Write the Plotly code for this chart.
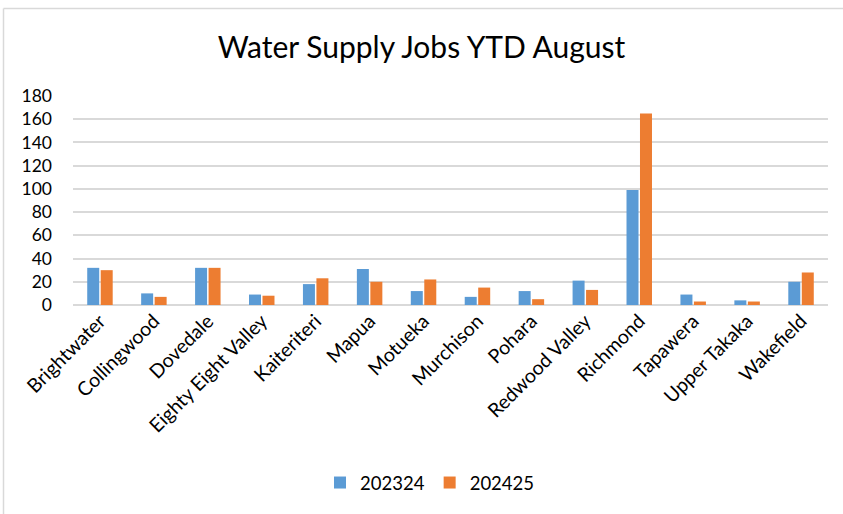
import plotly.graph_objects as go

categories = ["Brightwater", "Collingwood", "Dovedale", "Eighty Eight Valley", "Kaiteriteri",
              "Mapua", "Motueka", "Murchison", "Pohara", "Redwood Valley", "Richmond",
              "Tapawera", "Upper Takaka", "Wakefield"]
jobs_202324 = [32, 10, 32, 9, 18, 31, 12, 7, 12, 21, 99, 9, 4, 20]
jobs_202425 = [30, 7, 32, 8, 23, 20, 22, 15, 5, 13, 165, 3, 3, 28]
y_ticks = [0, 20, 40, 60, 80, 100, 120, 140, 160, 180]

FONT = "Lato"
W, H = 843, 514
L, R, T, B = 73, 15, 96, 209
pw, ph = W - L - R, H - T - B

def px(x):
    return (x - L) / pw

def py(y):
    return (H - B - y) / ph

fig = go.Figure()
fig.add_trace(go.Bar(name="202324", x=categories, y=jobs_202324,
                     marker=dict(color="#5B9BD5", line=dict(width=0))))
fig.add_trace(go.Bar(name="202425", x=categories, y=jobs_202425,
                     marker=dict(color="#ED7D31", line=dict(width=0))))

fig.update_layout(
    width=W, height=H,
    margin=dict(l=L, r=R, t=T, b=B),
    paper_bgcolor="white", plot_bgcolor="white",
    barmode="group", bargap=0.5, bargroupgap=0.11,
    font=dict(family=FONT, color="#000000", size=18),
    title=dict(text="Water Supply Jobs YTD August", x=0.5, xanchor="center",
               y=1 - 47 / H, yanchor="middle",
               font=dict(family=FONT, size=30, color="#000000")),
    xaxis=dict(tickangle=-45, showgrid=False, showline=False, ticks="",
               tickfont=dict(size=19.5)),
    yaxis=dict(range=[0, 180], tickvals=y_ticks, showgrid=True, gridcolor="#D9D9D9",
               gridwidth=1.5, zeroline=True, zerolinecolor="#D9D9D9", zerolinewidth=1.5,
               ticks="", ticklabelstandoff=20, tickfont=dict(size=17.5)),
    legend=dict(orientation="h", x=px(430), xanchor="center", y=py(483), yanchor="middle",
                font=dict(size=18.5), itemwidth=30, traceorder="normal"),
    showlegend=True,
)

fig.add_shape(type="line", xref="paper", yref="paper",
              x0=px(3.5), x1=px(843), y0=py(8.5), y1=py(8.5),
              line=dict(color="#D9D9D9", width=1.5))
fig.add_shape(type="line", xref="paper", yref="paper",
              x0=px(3.5), x1=px(3.5), y0=py(8.5), y1=py(514),
              line=dict(color="#D9D9D9", width=1.5))

fig.write_html("out.html", config={"displayModeBar": False},
               post_script="document.body.style.margin='0px';")
